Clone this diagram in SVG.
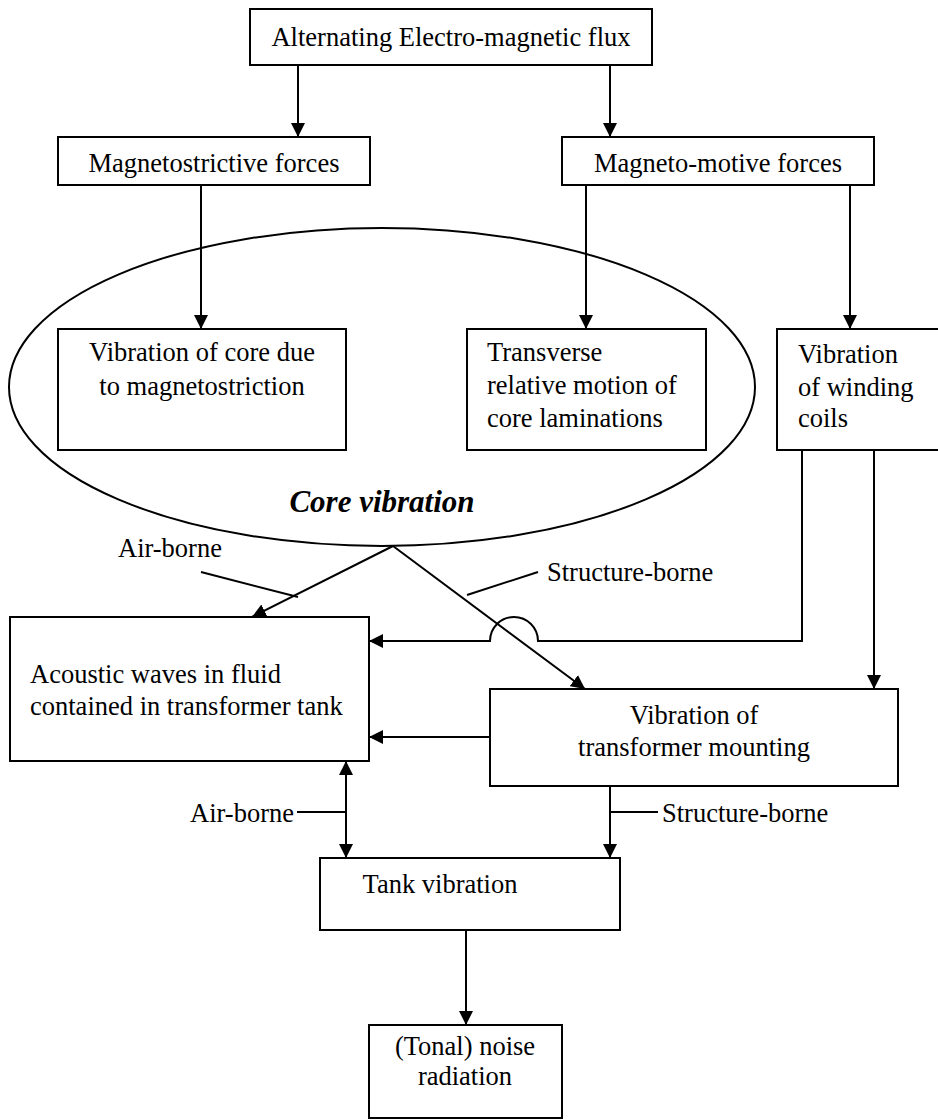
<svg xmlns="http://www.w3.org/2000/svg" width="938" height="1120" viewBox="0 0 938 1120">
<style>
.box{fill:#fff;stroke:#000;stroke-width:2}
.t{font-family:'Liberation Serif','Times New Roman','DejaVu Serif',serif;font-size:26.5px;fill:#000}
.c{text-anchor:middle}
.ln{fill:none;stroke:#000;stroke-width:2}
.core{font-family:'Liberation Serif','Times New Roman','DejaVu Serif',serif;font-size:31px;font-weight:bold;font-style:italic;text-anchor:middle}
</style>
<defs>
<marker id="ah" markerUnits="userSpaceOnUse" markerWidth="14" markerHeight="14" viewBox="0 0 12 12" refX="12" refY="6" orient="auto-start-reverse">
<path d="M0,0 L12,6 L0,12 z" fill="#000"/>
</marker>
</defs>
<rect width="938" height="1120" fill="#fff"/>

<g id="core-ellipse">
<ellipse cx="382" cy="387" rx="373" ry="159" class="ln"/>
<text class="core" x="382" y="512" font-family="Liberation Serif, serif">Core vibration</text>
</g>

<g id="connectors">
<line class="ln" x1="298" y1="65" x2="298" y2="137" marker-end="url(#ah)"/>
<line class="ln" x1="610" y1="65" x2="610" y2="137" marker-end="url(#ah)"/>
<line class="ln" x1="201" y1="185" x2="201" y2="329" marker-end="url(#ah)"/>
<line class="ln" x1="586" y1="185" x2="586" y2="329" marker-end="url(#ah)"/>
<line class="ln" x1="850" y1="185" x2="850" y2="329" marker-end="url(#ah)"/>
<line class="ln" x1="393" y1="546" x2="252" y2="617" marker-end="url(#ah)"/>
<line class="ln" x1="393" y1="546" x2="585" y2="689" marker-end="url(#ah)"/>
<path class="ln" d="M802,450 V641 H538 A24,24 0 0 0 490,641 H369" marker-end="url(#ah)"/>
<line class="ln" x1="874" y1="450" x2="874" y2="689" marker-end="url(#ah)"/>
<line class="ln" x1="490" y1="737" x2="369" y2="737" marker-end="url(#ah)"/>
<line class="ln" x1="346" y1="761" x2="346" y2="858" marker-start="url(#ah)" marker-end="url(#ah)"/>
<line class="ln" x1="610" y1="786" x2="610" y2="858" marker-end="url(#ah)"/>
<line class="ln" x1="466" y1="930" x2="466" y2="1025" marker-end="url(#ah)"/>
<line class="ln" x1="201" y1="572" x2="298" y2="597"/>
<line class="ln" x1="467" y1="595" x2="538" y2="572"/>
<line class="ln" x1="297" y1="812" x2="346" y2="812"/>
<line class="ln" x1="610" y1="812" x2="658" y2="812"/>
<text class="t" x="118" y="557" font-family="Liberation Serif, serif">Air-borne</text>
<text class="t" x="547" y="581" font-family="Liberation Serif, serif">Structure-borne</text>
<text class="t" x="294" y="822" text-anchor="end" font-family="Liberation Serif, serif">Air-borne</text>
<text class="t" x="662" y="822" font-family="Liberation Serif, serif">Structure-borne</text>
</g>

<g id="flux" font-family="Liberation Serif, serif">
<rect class="box" x="250" y="9" width="402" height="56"/>
<text class="t c" x="451" y="46">Alternating Electro-magnetic flux</text>
</g>
<g id="magnetostrictive" font-family="Liberation Serif, serif">
<rect class="box" x="58" y="137" width="312" height="48"/>
<text class="t c" x="214" y="172">Magnetostrictive forces</text>
</g>
<g id="magnetomotive" font-family="Liberation Serif, serif">
<rect class="box" x="562" y="137" width="312" height="48"/>
<text class="t c" x="718" y="172">Magneto-motive forces</text>
</g>
<g id="core-magnetostriction" font-family="Liberation Serif, serif">
<rect class="box" x="58" y="329" width="288" height="121"/>
<text class="t c" x="202" y="361">Vibration of core due</text>
<text class="t c" x="202" y="395">to magnetostriction</text>
</g>
<g id="laminations" font-family="Liberation Serif, serif">
<rect class="box" x="467" y="329" width="239" height="121"/>
<text class="t" x="487" y="361">Transverse</text>
<text class="t" x="487" y="394">relative motion of</text>
<text class="t" x="487" y="427">core laminations</text>
</g>
<g id="coils" font-family="Liberation Serif, serif">
<rect class="box" x="777" y="329" width="170" height="121"/>
<text class="t" x="798" y="363">Vibration</text>
<text class="t" x="798" y="396">of winding</text>
<text class="t" x="798" y="427">coils</text>
</g>
<g id="acoustic" font-family="Liberation Serif, serif">
<rect class="box" x="10" y="617" width="359" height="144"/>
<text class="t" x="30" y="683">Acoustic waves in fluid</text>
<text class="t" x="30" y="715">contained in transformer tank</text>
</g>
<g id="mounting" font-family="Liberation Serif, serif">
<rect class="box" x="490" y="689" width="408" height="97"/>
<text class="t c" x="694" y="724">Vibration of</text>
<text class="t c" x="694" y="756">transformer mounting</text>
</g>
<g id="tank" font-family="Liberation Serif, serif">
<rect class="box" x="320" y="858" width="300" height="72"/>
<text class="t c" x="440" y="893">Tank vibration</text>
</g>
<g id="noise" font-family="Liberation Serif, serif">
<rect class="box" x="369" y="1025" width="193" height="93"/>
<text class="t c" x="465" y="1055">(Tonal) noise</text>
<text class="t c" x="465" y="1085">radiation</text>
</g>
</svg>
